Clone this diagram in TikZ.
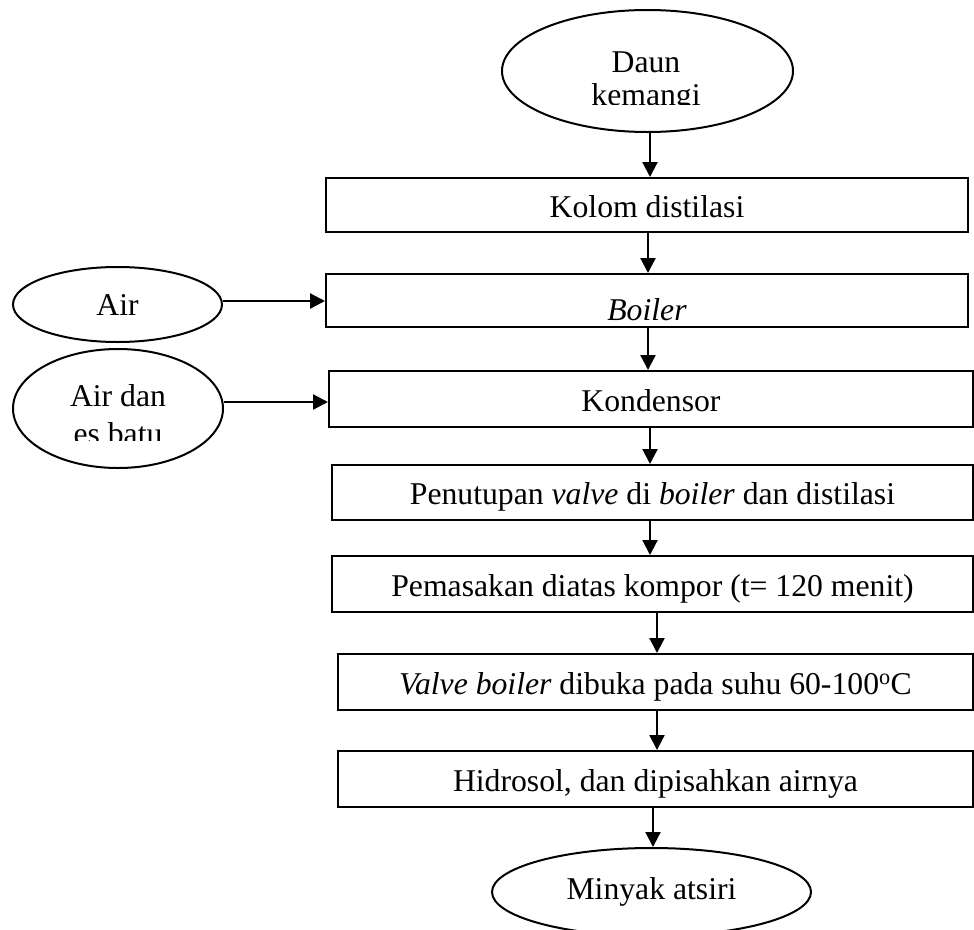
\documentclass[tikz,border=0pt]{standalone}
\usepackage{fontspec}
\setmainfont{Liberation Serif}
\usetikzlibrary{shapes.geometric,arrows.meta}
\newcommand\diagfont{\fontsize{31.7}{31}\selectfont}
\begin{document}
\begin{tikzpicture}[x=1pt,y=-1pt,
  stepbox/.style={draw, line width=2pt, rectangle, inner sep=0pt, minimum height=55pt, font=\diagfont, text depth=0pt, text height=24pt},
  oval/.style={draw, ellipse, line width=2pt, inner sep=0pt, font=\diagfont},
  txt/.style={inner sep=0pt, font=\diagfont, anchor=base},
  arr/.style={line width=2.2pt, -{Triangle[length=15pt,width=15pt]}}
]
\useasboundingbox (0,0) rectangle (974,929);
% top oval with clipped text
\node[oval, minimum width=291pt, minimum height=122pt] (daun) at (647.5,71) {};
\begin{scope}
  \clip (500,0) rectangle (800,104);
  \node[txt] (daunA) at (646,72) {Daun};
  \node[txt] (daunB) at (646,105) {kemangi};
\end{scope}
% process boxes
\node[stepbox, minimum width=642pt, minimum height=54pt] (kolom) at (647,205) {Kolom distilasi};
\node[stepbox, minimum width=642pt, minimum height=53pt, text height=39pt] (boiler) at (647,300.5) {\textit{Boiler}};
\node[stepbox, minimum width=644pt, minimum height=56pt] (kond) at (651,399) {Kondensor};
\node[stepbox, minimum width=641pt] (tutup) at (652.5,492.5) {Penutupan \textit{valve} di \textit{boiler} dan distilasi};
\node[stepbox, minimum width=641pt, minimum height=56pt] (masak) at (652.5,584) {Pemasakan diatas kompor (t= 120 menit)};
\node[stepbox, minimum width=635pt, minimum height=56pt] (valve) at (655.5,682) {\textit{Valve boiler} dibuka pada suhu 60-100\textsuperscript{o}C};
\node[stepbox, minimum width=635pt, minimum height=56pt] (hidro) at (655.5,779) {Hidrosol, dan dipisahkan airnya};
\node[oval, minimum width=319pt, minimum height=88pt] (minyak) at (651.5,892) {Minyak atsiri};
% side inputs
\node[oval, minimum width=209pt, minimum height=75pt] (air) at (117.5,304.5) {Air};
\node[oval, minimum width=210pt, minimum height=119pt] (airdan) at (118,408.5) {};
\begin{scope}
  \clip (0,349) rectangle (240,440);
  \node[txt] (airdanA) at (118,406) {Air dan};
  \node[txt] (airdanB) at (118,444) {es batu};
\end{scope}
% connectors
\coordinate (xa) at (650,0);
\coordinate (xb) at (648,0);
\coordinate (xc) at (650,0);
\coordinate (xd) at (657,0);
\coordinate (xe) at (653,0);
\draw[arr] (xa |- daun.south) -- (xa |- kolom.north);
\draw[arr] (xb |- kolom.south) -- (xb |- boiler.north);
\draw[arr] (xb |- boiler.south) -- (xb |- kond.north);
\draw[arr] (xc |- kond.south) -- (xc |- tutup.north);
\draw[arr] (xc |- tutup.south) -- (xc |- masak.north);
\draw[arr] (xd |- masak.south) -- (xd |- valve.north);
\draw[arr] (xd |- valve.south) -- (xd |- hidro.north);
\draw[arr] (xe |- hidro.south) -- (xe |- minyak.north);
\coordinate (ya) at ([yshift=3.5pt]air.east);
\draw[arr] (ya) -- (ya -| boiler.west);
\coordinate (yb) at ([yshift=6.5pt]airdan.east);
\draw[arr] (yb) -- (yb -| kond.west);
\end{tikzpicture}
\end{document}
